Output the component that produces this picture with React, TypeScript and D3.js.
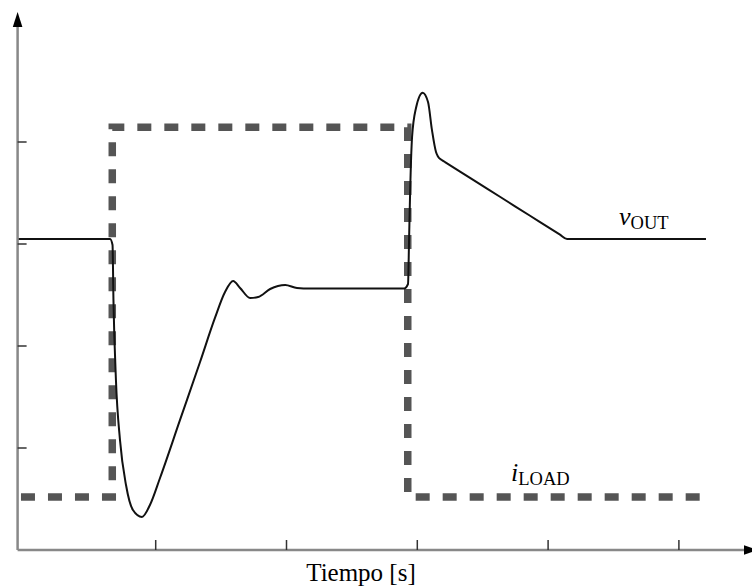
import React from "react";
import { scaleLinear, line, curveMonotoneX, curveLinear } from "d3";

// time axis ticks and level ticks (arbitrary units)
const xTicks = [1, 2, 3, 4, 5];
const yTicks = [1, 2, 3, 4];

// load current step (dashed)
const loadT = [-0.03, 0.668, 0.668, 2.927, 2.927, 5.17];
const loadV = [0.52, 0.52, 4.144, 4.144, 0.52, 0.52];

// output voltage response
const vOutT = [
  -0.056, 0.651, 0.67, 0.677, 0.696, 0.727, 0.773, 0.826, 0.895, 0.956, 1.033, 1.186, 1.339,
  1.453, 1.53, 1.592, 1.645, 1.722, 1.783, 1.875, 1.99, 2.08, 2.18, 2.899, 2.929, 2.937, 2.945,
  2.96, 2.99, 3.041, 3.082, 3.112, 3.143, 3.158, 3.187, 3.212, 3.403, 3.632, 3.862, 4.091,
  4.145, 5.207,
];
const vOutV = [
  3.049, 3.049, 2.99, 2.451, 1.667, 1.078, 0.637, 0.392, 0.324, 0.441, 0.706, 1.275, 1.843,
  2.275, 2.529, 2.637, 2.569, 2.471, 2.48, 2.559, 2.598, 2.569, 2.564, 2.564, 2.608, 3.039, 3.5,
  4.049, 4.333, 4.483, 4.392, 4.118, 3.902, 3.858, 3.823, 3.803, 3.648, 3.463, 3.277, 3.092,
  3.049, 3.049,
];

const W = 752;
const H = 587;
const serif = "'Liberation Serif', 'Times New Roman', serif";

const App = () => {
  const x = scaleLinear().domain([0, 5]).range([24.9, 678.9]);
  const y = scaleLinear().domain([0, 5.3]).range([550, 9.4]);

  const x0 = 17.6; // y axis position
  const y0 = y(0);

  const loadPts: [number, number][] = loadT.map((t, i) => [t, loadV[i]]);
  const vPts: [number, number][] = vOutT.map((t, i) => [t, vOutV[i]]);

  const loadLine = line<[number, number]>()
    .x(d => x(d[0]))
    .y(d => y(d[1]))
    .curve(curveLinear);

  const vLine = line<[number, number]>()
    .x(d => x(d[0]))
    .y(d => y(d[1]))
    .curve(curveMonotoneX);

  return (
    <svg width={W} height={H} style={{ position: "absolute", left: 0, top: 0, background: "#fff" }}>
      {/* load current */}
      <path d={loadLine(loadPts) || ""} fill="none" stroke="#555" strokeWidth={7.5} strokeDasharray="14 13" />

      {/* output voltage */}
      <path d={vLine(vPts) || ""} fill="none" stroke="#111" strokeWidth={2} strokeLinejoin="round" />

      {/* axes */}
      <line x1={x0} y1={y0} x2={x0} y2={24} stroke="#888" strokeWidth={2.5} />
      <polygon points={`${x0},12 ${x0 - 4.8},27 ${x0 + 4.8},27`} fill="#000" />
      <line x1={x0} y1={y0} x2={746} y2={y0} stroke="#888" strokeWidth={2.5} />
      <polygon points={`758,${y0} 744,${y0 - 4.8} 744,${y0 + 4.8}`} fill="#000" />

      {xTicks.map(t => (
        <line key={"xt" + t} x1={x(t)} x2={x(t)} y1={y0} y2={y0 - 10} stroke="#333" strokeWidth={1.5} />
      ))}
      {yTicks.map(v => (
        <line key={"yt" + v} x1={x0} x2={x0 + 9} y1={y(v)} y2={y(v)} stroke="#333" strokeWidth={1.5} />
      ))}

      {/* labels */}
      <text x={619} y={225} fontFamily={serif} fontSize={26} fill="#000">
        <tspan fontStyle="italic">v</tspan>
        <tspan fontSize={18.5} dy={4}>OUT</tspan>
      </text>
      <text x={511} y={481} fontFamily={serif} fontSize={26} fill="#000">
        <tspan fontStyle="italic">i</tspan>
        <tspan fontSize={18.5} dy={4}>LOAD</tspan>
      </text>
      <text x={361} y={581} textAnchor="middle" fontFamily={serif} fontSize={25} fill="#000">
        Tiempo [s]
      </text>
    </svg>
  );
};

export default App;
